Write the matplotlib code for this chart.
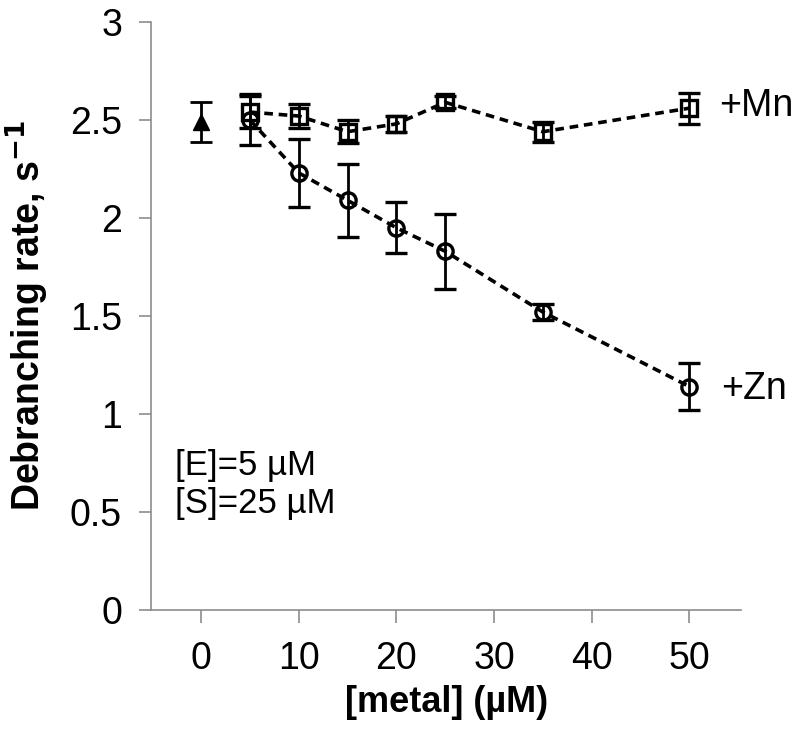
import matplotlib
matplotlib.use("Agg")
import matplotlib.pyplot as plt

plt.rcParams['font.family'] = ['Liberation Sans', 'DejaVu Sans']

# no metal control
x_ctrl = [0]
y_ctrl = [2.49]
err_ctrl = [0.10]

# +Mn
x_mn = [5, 10, 15, 20, 25, 35, 50]
y_mn = [2.54, 2.52, 2.44, 2.48, 2.59, 2.44, 2.56]
err_mn = [0.08, 0.06, 0.06, 0.04, 0.03, 0.05, 0.08]

# +Zn
x_zn = [5, 10, 15, 20, 25, 35, 50]
y_zn = [2.50, 2.23, 2.09, 1.95, 1.83, 1.52, 1.14]
err_zn = [0.13, 0.175, 0.185, 0.13, 0.19, 0.04, 0.12]

xticks = [0, 10, 20, 30, 40, 50]
yticks = [0, 0.5, 1, 1.5, 2, 2.5, 3]
ytick_labels = ['0', '0.5', '1', '1.5', '2', '2.5', '3']

fig = plt.figure(figsize=(7.96, 7.31), dpi=100)
ax = fig.add_axes([0.19, 0.1655, 0.741, 0.8045])

err_kw = dict(ecolor='black', elinewidth=2, capsize=8, capthick=2)
ax.errorbar(x_mn, y_mn, yerr=err_mn, fmt='s', ms=11, mfc='none', mec='black',
            mew=2.4, **err_kw, zorder=3)
ax.errorbar(x_zn, y_zn, yerr=err_zn, fmt='o', ms=11, mfc='none', mec='black',
            mew=2.4, **err_kw, zorder=3)
ax.errorbar(x_ctrl, y_ctrl, yerr=err_ctrl, fmt='^', ms=12, color='black',
            **err_kw, zorder=3)
ax.plot(x_mn, y_mn, ls=(0, (2.4, 1.6)), color='black', lw=2.6, zorder=4)
ax.plot(x_zn, y_zn, ls=(0, (2.4, 1.6)), color='black', lw=2.6, zorder=4)

ax.text(x_mn[-1] + 3.1, y_mn[-1] + 0.01, '+Mn', fontsize=27, va='center', ha='left')
ax.text(x_zn[-1] + 3.3, y_zn[-1] - 0.01, '+Zn', fontsize=27, va='center', ha='left')
ax.text(-2.7, 0.64, '[E]=5 µM\n[S]=25 µM', fontsize=25, va='center', ha='left',
        linespacing=1.2)

ax.set_xlim(-5.1, 55.3)
ax.set_ylim(0, 3)
ax.set_xticks(xticks)
ax.set_yticks(yticks)
ax.set_yticklabels(ytick_labels)

for s in ['top', 'right']:
    ax.spines[s].set_visible(False)
for s in ['left', 'bottom']:
    ax.spines[s].set_color('#8c8c8c')
    ax.spines[s].set_linewidth(1.2)
ax.tick_params(axis='both', direction='out', color='#8c8c8c', width=1.2,
               length=9, labelsize=27)
ax.tick_params(axis='y', pad=12)
ax.tick_params(axis='x', pad=13)

ax.set_xlabel('[metal] (µM)', fontsize=26, fontweight='bold', labelpad=6)
ax.set_ylabel('Debranching rate, s$^{\\mathbf{-1}}$', fontsize=27, fontweight='bold',
              labelpad=14)

fig.savefig('out.png', dpi=100, facecolor='white')
